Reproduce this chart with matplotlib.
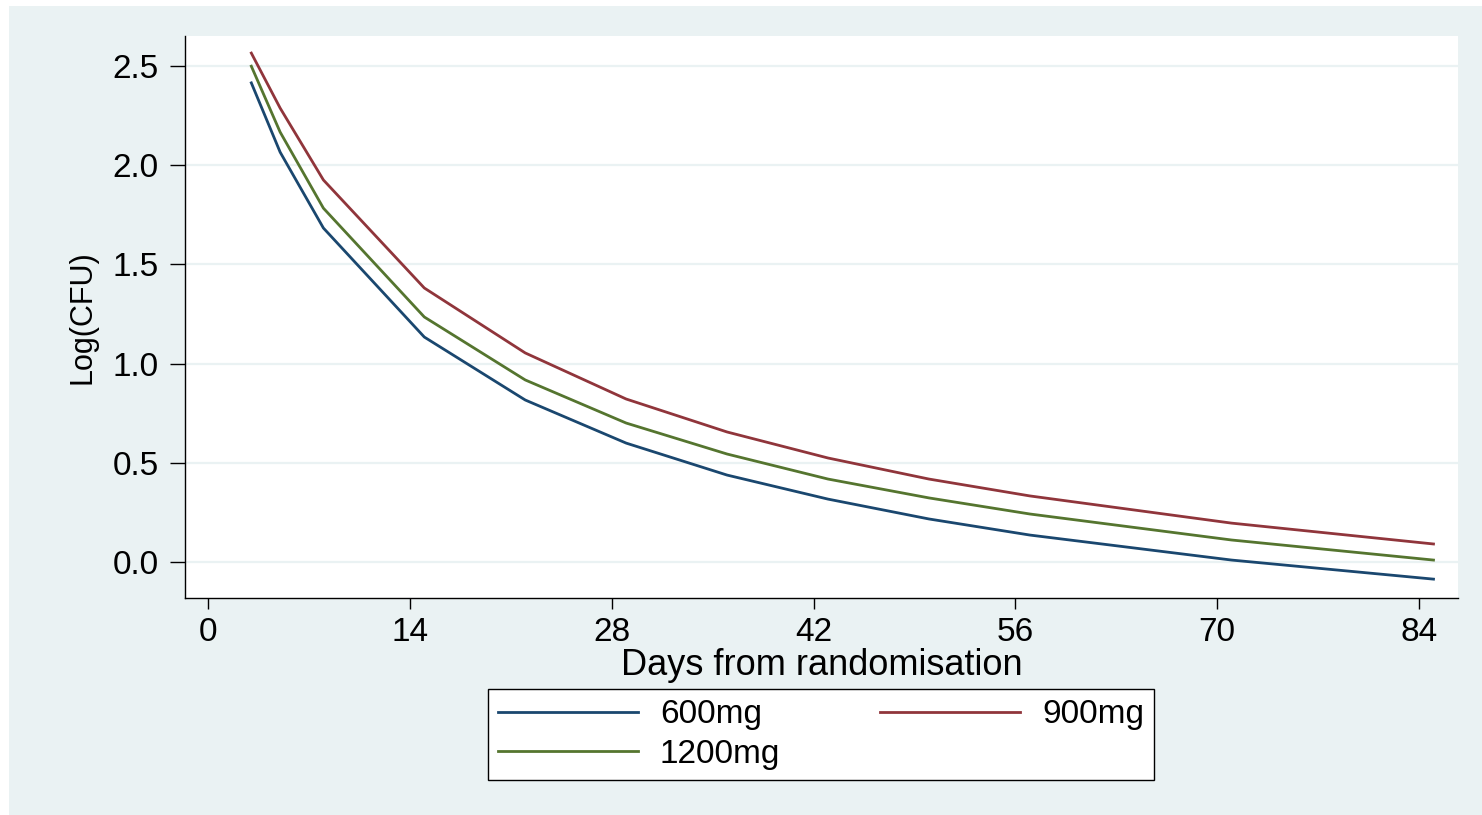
import matplotlib
matplotlib.use("Agg")
import matplotlib.pyplot as plt
from matplotlib.patches import Rectangle

# Visit days and modelled log(CFU) per dose group
days = [3, 5, 8, 15, 22, 29, 36, 43, 50, 57, 71, 85]
cfu_600 = [2.414, 2.065, 1.683, 1.134, 0.817, 0.600, 0.439, 0.318, 0.218, 0.137, 0.011, -0.085]
cfu_900 = [2.564, 2.287, 1.925, 1.381, 1.054, 0.822, 0.656, 0.525, 0.419, 0.334, 0.197, 0.092]
cfu_1200 = [2.498, 2.166, 1.783, 1.235, 0.918, 0.701, 0.545, 0.419, 0.324, 0.243, 0.112, 0.011]

x_ticks = [0, 14, 28, 42, 56, 70, 84]
y_ticks = [0.0, 0.5, 1.0, 1.5, 2.0, 2.5]
y_tick_labels = ["0.0", "0.5", "1.0", "1.5", "2.0", "2.5"]

plt.rcParams["font.family"] = ["Liberation Sans", "DejaVu Sans"]

BG = "#EAF2F3"
NAVY = "#1a476f"
MAROON = "#90353b"
GREEN = "#55752f"


def plot_cfu_by_dose():
    W, H = 1482, 815
    fig = plt.figure(figsize=(W / 100, H / 100), dpi=100, facecolor="white")

    # Stata-like light background panel (small white margin top/left)
    bg = Rectangle((9 / W, 0), 1 - 9 / W, 1 - 6 / H, transform=fig.transFigure,
                   facecolor=BG, edgecolor="none", zorder=-10)
    fig.add_artist(bg)

    ax = fig.add_axes([185 / W, 1 - 598 / H, (1458 - 185) / W, (598 - 36) / H])
    ax.set_facecolor("white")

    lw = 2.0
    ax.plot(days, cfu_600, color=NAVY, linewidth=lw, label="600mg", zorder=3)
    ax.plot(days, cfu_900, color=MAROON, linewidth=lw, label="900mg", zorder=3)
    ax.plot(days, cfu_1200, color=GREEN, linewidth=lw, label="1200mg", zorder=3)

    ax.set_xlim(-1.6, 86.7)
    ax.set_ylim(-0.18, 2.65)
    ax.set_xticks(x_ticks)
    ax.set_yticks(y_ticks)
    ax.set_yticklabels(y_tick_labels)

    ax.grid(axis="y", color=BG, linewidth=1.6, zorder=1)
    ax.set_axisbelow(True)

    for side in ["top", "right"]:
        ax.spines[side].set_visible(False)
    for side in ["left", "bottom"]:
        ax.spines[side].set_linewidth(1.0)
        ax.spines[side].set_color("black")

    ax.tick_params(axis="y", length=11, width=1.0, pad=8, labelsize=24)
    ax.tick_params(axis="x", length=8, width=1.0, pad=6, labelsize=24)

    ax.set_xlabel("Days from randomisation", fontsize=26, labelpad=0)
    ax.set_ylabel("Log(CFU)", fontsize=22, labelpad=11)

    handles, labels = ax.get_legend_handles_labels()
    order = [0, 2, 1]  # column-major fill: 600mg, 1200mg | 900mg
    leg = fig.legend([handles[i] for i in order], [labels[i] for i in order],
                     loc="center", bbox_to_anchor=(821 / W, 1 - 734.5 / H),
                     ncol=2, fontsize=24, frameon=True, fancybox=False,
                     edgecolor="black", facecolor="white", framealpha=1,
                     handlelength=4.2, handletextpad=0.66, columnspacing=3.0,
                     borderpad=0.3, labelspacing=0.25)
    leg.get_frame().set_linewidth(1.0)

    fig.savefig("out.png", dpi=100, facecolor=fig.get_facecolor())


if __name__ == "__main__":
    plot_cfu_by_dose()
